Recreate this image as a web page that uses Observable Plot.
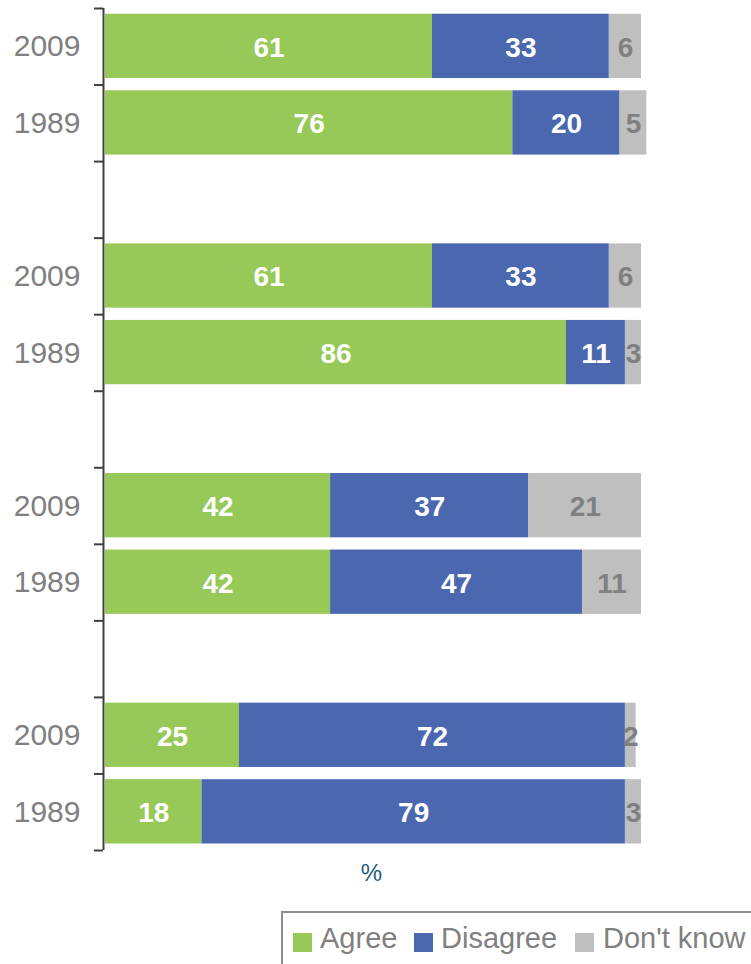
<!DOCTYPE html>
<html>
<head>
<meta charset="utf-8">
<script src="https://cdn.jsdelivr.net/npm/d3@7"></script>
<script src="https://cdn.jsdelivr.net/npm/@observablehq/plot@0.6"></script>
<style>
  html, body { margin: 0; padding: 0; background: #fff; }
  body { width: 751px; height: 964px; overflow: hidden; position: relative; font-family: "Liberation Sans", Arial, sans-serif; }
  #chart svg { display: block; }
  #legend {
    position: absolute; left: 281px; top: 911px; width: 520px; height: 80px;
    border: 2px solid #8c8c8c; box-sizing: border-box;
  }
  .sw { position: absolute; top: 20px; width: 19px; height: 19px; }
  .lb { position: absolute; top: 8px; font-size: 29px; color: #808080; white-space: nowrap; line-height: 34px; }
</style>
</head>
<body>
<div id="chart"></div>
<div id="legend"></div>
<script>
const years = ["2009", "1989", "2009", "1989", "2009", "1989", "2009", "1989"];
const agree = [61, 76, 61, 86, 42, 42, 25, 18];
const disagree = [33, 20, 33, 11, 37, 47, 72, 79];
const dontKnow = [6, 5, 6, 3, 21, 11, 2, 3];
const categories = ["Agree", "Disagree", "Don't know"];
const colors = ["#96C957", "#4A67B0", "#BFBFBF"];
const labelColors = ["#ffffff", "#ffffff", "#808080"];

const series = [agree, disagree, dontKnow];
const rows = years.map((y, i) => Math.floor(i / 2) * 3 + (i % 2));
const segs = [];
years.forEach((yr, i) => {
  let acc = 0;
  series.forEach((s, k) => {
    const v = s[i];
    segs.push({row: rows[i], cat: categories[k], value: v, x1: acc, x2: acc + v, lc: labelColors[k]});
    acc += v;
  });
});
const yearRows = years.map((y, i) => ({row: rows[i], year: y}));

const font = "Liberation Sans, Arial, sans-serif";
const chart = Plot.plot({
  width: 751,
  height: 900,
  marginLeft: 105,
  marginRight: 110,
  marginTop: 8,
  marginBottom: 50,
  style: {fontFamily: font, background: "#fff"},
  x: {domain: [0, 100], axis: null},
  y: {domain: [0, 11], axis: null, reverse: true},
  color: {domain: categories, range: colors},
  marks: [
    Plot.rectX(segs, {x1: "x1", x2: "x2", y1: d => d.row + 0.075, y2: d => d.row + 0.915, fill: "cat"}),
    Plot.text(segs, {x: d => (d.x1 + d.x2) / 2, y: d => d.row + 0.5, text: d => String(d.value), fill: "lc", fontSize: 28, fontWeight: "bold", fontFamily: font, dy: 1}),
    Plot.ruleX([0], {dx: -2, stroke: "#404040", strokeWidth: 2}),
    Plot.axisY({ticks: d3.range(0, 12), tickSize: 9, tickFormat: () => "", stroke: "#404040", strokeWidth: 2, dx: -2}),
    Plot.text(yearRows, {frameAnchor: "left", y: d => d.row + 0.5, text: "year", textAnchor: "end", dx: -25, fill: "#808080", fontSize: 30, fontFamily: font}),
    Plot.text(["%"], {frameAnchor: "bottom", dy: 23, dx: -2, lineAnchor: "middle", fill: "#1F5C78", fontSize: 24, fontFamily: font})
  ]
});
document.getElementById("chart").appendChild(chart);

const legend = document.getElementById("legend");
const swX = [10, 131, 292];
const lbX = [37, 158, 320];
categories.forEach((c, k) => {
  const sw = document.createElement("div");
  sw.className = "sw"; sw.style.left = swX[k] + "px"; sw.style.background = colors[k];
  legend.appendChild(sw);
  const lb = document.createElement("div");
  lb.className = "lb"; lb.style.left = lbX[k] + "px"; lb.textContent = c;
  legend.appendChild(lb);
});
</script>
</body>
</html>
